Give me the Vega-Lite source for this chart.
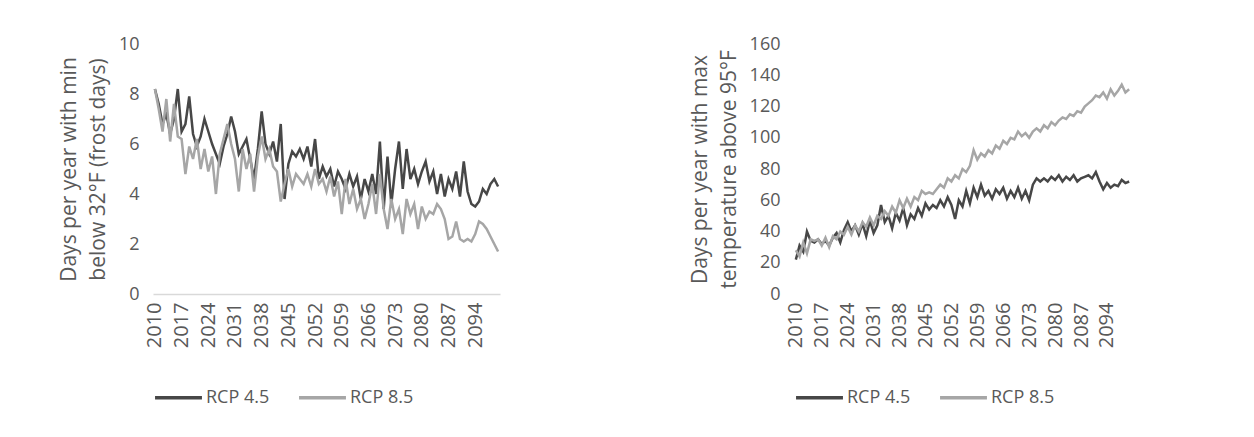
{
 "$schema": "https://vega.github.io/schema/vega-lite/v6.json",
 "background": "white",
 "padding": {"left": 58, "top": 35, "right": 5, "bottom": 5},
 "config": {
  "font": "Open Sans",
  "view": {"stroke": null},
  "axis": {"labelColor": "#595959", "titleColor": "#595959", "labelFont": "Open Sans", "titleFont": "Open Sans", "labelFontSize": 18, "titleFontSize": 21, "titleLineHeight": 29, "titleFontWeight": "normal", "grid": false, "ticks": false},
  "legend": {"labelColor": "#595959", "labelFont": "Open Sans", "labelFontSize": 18, "symbolType": "stroke", "symbolStrokeWidth": 3.5, "symbolSize": 2200, "columnPadding": 22, "labelOffset": 2}
 },
 "datasets": {
  "frost": [
   {"year":2010,"rcp45":8.2,"rcp85":8.2},{"year":2011,"rcp45":7.6,"rcp85":7.4},{"year":2012,"rcp45":6.8,"rcp85":6.5},{"year":2013,"rcp45":7.2,"rcp85":7.8},{"year":2014,"rcp45":6.4,"rcp85":6.1},{"year":2015,"rcp45":7.0,"rcp85":7.6},{"year":2016,"rcp45":8.2,"rcp85":6.3},{"year":2017,"rcp45":6.5,"rcp85":6.2},{"year":2018,"rcp45":6.8,"rcp85":4.8},{"year":2019,"rcp45":7.9,"rcp85":5.9},
   {"year":2020,"rcp45":6.4,"rcp85":5.4},{"year":2021,"rcp45":5.9,"rcp85":6.2},{"year":2022,"rcp45":6.3,"rcp85":5.0},{"year":2023,"rcp45":7.0,"rcp85":5.8},{"year":2024,"rcp45":6.5,"rcp85":4.9},{"year":2025,"rcp45":6.0,"rcp85":5.5},{"year":2026,"rcp45":5.6,"rcp85":4.0},{"year":2027,"rcp45":5.2,"rcp85":5.6},{"year":2028,"rcp45":5.9,"rcp85":6.2},{"year":2029,"rcp45":6.4,"rcp85":6.8},
   {"year":2030,"rcp45":7.1,"rcp85":6.0},{"year":2031,"rcp45":6.5,"rcp85":5.4},{"year":2032,"rcp45":5.6,"rcp85":4.1},{"year":2033,"rcp45":5.9,"rcp85":5.8},{"year":2034,"rcp45":6.2,"rcp85":5.0},{"year":2035,"rcp45":5.4,"rcp85":5.6},{"year":2036,"rcp45":4.6,"rcp85":4.1},{"year":2037,"rcp45":5.8,"rcp85":5.5},{"year":2038,"rcp45":7.3,"rcp85":6.3},{"year":2039,"rcp45":6.0,"rcp85":5.4},
   {"year":2040,"rcp45":5.6,"rcp85":5.8},{"year":2041,"rcp45":6.1,"rcp85":5.1},{"year":2042,"rcp45":5.3,"rcp85":4.9},{"year":2043,"rcp45":6.8,"rcp85":3.7},{"year":2044,"rcp45":3.8,"rcp85":4.4},{"year":2045,"rcp45":5.2,"rcp85":5.0},{"year":2046,"rcp45":5.7,"rcp85":4.3},{"year":2047,"rcp45":5.5,"rcp85":4.8},{"year":2048,"rcp45":5.8,"rcp85":4.6},{"year":2049,"rcp45":5.4,"rcp85":4.4},
   {"year":2050,"rcp45":5.9,"rcp85":4.8},{"year":2051,"rcp45":5.1,"rcp85":4.3},{"year":2052,"rcp45":6.2,"rcp85":5.0},{"year":2053,"rcp45":4.6,"rcp85":4.4},{"year":2054,"rcp45":5.1,"rcp85":4.6},{"year":2055,"rcp45":4.7,"rcp85":4.1},{"year":2056,"rcp45":5.0,"rcp85":4.7},{"year":2057,"rcp45":4.3,"rcp85":3.9},{"year":2058,"rcp45":4.9,"rcp85":4.5},{"year":2059,"rcp45":4.6,"rcp85":3.2},
   {"year":2060,"rcp45":4.2,"rcp85":4.6},{"year":2061,"rcp45":4.8,"rcp85":3.6},{"year":2062,"rcp45":4.3,"rcp85":4.2},{"year":2063,"rcp45":4.7,"rcp85":3.4},{"year":2064,"rcp45":3.8,"rcp85":3.8},{"year":2065,"rcp45":4.6,"rcp85":3.0},{"year":2066,"rcp45":4.1,"rcp85":3.6},{"year":2067,"rcp45":4.8,"rcp85":4.4},{"year":2068,"rcp45":4.0,"rcp85":3.2},{"year":2069,"rcp45":6.1,"rcp85":4.8},
   {"year":2070,"rcp45":3.4,"rcp85":3.4},{"year":2071,"rcp45":5.5,"rcp85":2.6},{"year":2072,"rcp45":3.6,"rcp85":3.8},{"year":2073,"rcp45":5.0,"rcp85":3.0},{"year":2074,"rcp45":6.1,"rcp85":3.4},{"year":2075,"rcp45":4.2,"rcp85":2.4},{"year":2076,"rcp45":5.8,"rcp85":3.8},{"year":2077,"rcp45":4.6,"rcp85":3.2},{"year":2078,"rcp45":5.0,"rcp85":3.6},{"year":2079,"rcp45":4.4,"rcp85":2.6},
   {"year":2080,"rcp45":4.9,"rcp85":3.5},{"year":2081,"rcp45":5.3,"rcp85":3.0},{"year":2082,"rcp45":4.5,"rcp85":3.3},{"year":2083,"rcp45":4.9,"rcp85":3.2},{"year":2084,"rcp45":4.0,"rcp85":3.6},{"year":2085,"rcp45":4.8,"rcp85":3.4},{"year":2086,"rcp45":3.9,"rcp85":3.0},{"year":2087,"rcp45":4.6,"rcp85":2.2},{"year":2088,"rcp45":4.2,"rcp85":2.3},{"year":2089,"rcp45":4.9,"rcp85":2.9},
   {"year":2090,"rcp45":3.9,"rcp85":2.2},{"year":2091,"rcp45":5.3,"rcp85":2.1},{"year":2092,"rcp45":4.1,"rcp85":2.2},{"year":2093,"rcp45":3.6,"rcp85":2.1},{"year":2094,"rcp45":3.5,"rcp85":2.4},{"year":2095,"rcp45":3.7,"rcp85":2.9},{"year":2096,"rcp45":4.2,"rcp85":2.8},{"year":2097,"rcp45":4.0,"rcp85":2.6},{"year":2098,"rcp45":4.4,"rcp85":2.3},{"year":2099,"rcp45":4.6,"rcp85":2.0},
   {"year":2100,"rcp45":4.3,"rcp85":1.7}
  ],
  "heat": [
   {"year":2010,"rcp45":22,"rcp85":28},{"year":2011,"rcp45":31,"rcp85":24},{"year":2012,"rcp45":27,"rcp85":33},{"year":2013,"rcp45":40,"rcp85":26},{"year":2014,"rcp45":34,"rcp85":35},{"year":2015,"rcp45":33,"rcp85":34},{"year":2016,"rcp45":35,"rcp85":35},{"year":2017,"rcp45":32,"rcp85":31},{"year":2018,"rcp45":34,"rcp85":36},{"year":2019,"rcp45":31,"rcp85":30},
   {"year":2020,"rcp45":36,"rcp85":37},{"year":2021,"rcp45":39,"rcp85":35},{"year":2022,"rcp45":33,"rcp85":40},{"year":2023,"rcp45":41,"rcp85":38},{"year":2024,"rcp45":46,"rcp85":43},{"year":2025,"rcp45":40,"rcp85":38},{"year":2026,"rcp45":44,"rcp85":44},{"year":2027,"rcp45":38,"rcp85":40},{"year":2028,"rcp45":45,"rcp85":46},{"year":2029,"rcp45":37,"rcp85":43},
   {"year":2030,"rcp45":47,"rcp85":49},{"year":2031,"rcp45":39,"rcp85":44},{"year":2032,"rcp45":44,"rcp85":50},{"year":2033,"rcp45":57,"rcp85":48},{"year":2034,"rcp45":46,"rcp85":53},{"year":2035,"rcp45":50,"rcp85":50},{"year":2036,"rcp45":42,"rcp85":56},{"year":2037,"rcp45":52,"rcp85":52},{"year":2038,"rcp45":47,"rcp85":60},{"year":2039,"rcp45":55,"rcp85":55},
   {"year":2040,"rcp45":44,"rcp85":61},{"year":2041,"rcp45":51,"rcp85":56},{"year":2042,"rcp45":48,"rcp85":62},{"year":2043,"rcp45":55,"rcp85":60},{"year":2044,"rcp45":50,"rcp85":66},{"year":2045,"rcp45":58,"rcp85":64},{"year":2046,"rcp45":54,"rcp85":65},{"year":2047,"rcp45":57,"rcp85":64},{"year":2048,"rcp45":55,"rcp85":67},{"year":2049,"rcp45":60,"rcp85":70},
   {"year":2050,"rcp45":56,"rcp85":68},{"year":2051,"rcp45":62,"rcp85":74},{"year":2052,"rcp45":57,"rcp85":72},{"year":2053,"rcp45":48,"rcp85":76},{"year":2054,"rcp45":60,"rcp85":74},{"year":2055,"rcp45":56,"rcp85":80},{"year":2056,"rcp45":66,"rcp85":78},{"year":2057,"rcp45":58,"rcp85":82},{"year":2058,"rcp45":68,"rcp85":92},{"year":2059,"rcp45":62,"rcp85":86},
   {"year":2060,"rcp45":70,"rcp85":90},{"year":2061,"rcp45":63,"rcp85":88},{"year":2062,"rcp45":66,"rcp85":92},{"year":2063,"rcp45":61,"rcp85":90},{"year":2064,"rcp45":67,"rcp85":95},{"year":2065,"rcp45":64,"rcp85":93},{"year":2066,"rcp45":68,"rcp85":98},{"year":2067,"rcp45":61,"rcp85":96},{"year":2068,"rcp45":66,"rcp85":100},{"year":2069,"rcp45":62,"rcp85":99},
   {"year":2070,"rcp45":68,"rcp85":104},{"year":2071,"rcp45":61,"rcp85":101},{"year":2072,"rcp45":66,"rcp85":103},{"year":2073,"rcp45":60,"rcp85":100},{"year":2074,"rcp45":70,"rcp85":104},{"year":2075,"rcp45":74,"rcp85":106},{"year":2076,"rcp45":72,"rcp85":104},{"year":2077,"rcp45":74,"rcp85":108},{"year":2078,"rcp45":72,"rcp85":106},{"year":2079,"rcp45":75,"rcp85":110},
   {"year":2080,"rcp45":73,"rcp85":108},{"year":2081,"rcp45":76,"rcp85":111},{"year":2082,"rcp45":72,"rcp85":113},{"year":2083,"rcp45":75,"rcp85":112},{"year":2084,"rcp45":73,"rcp85":115},{"year":2085,"rcp45":76,"rcp85":114},{"year":2086,"rcp45":72,"rcp85":117},{"year":2087,"rcp45":74,"rcp85":116},{"year":2088,"rcp45":75,"rcp85":120},{"year":2089,"rcp45":76,"rcp85":122},
   {"year":2090,"rcp45":74,"rcp85":124},{"year":2091,"rcp45":78,"rcp85":127},{"year":2092,"rcp45":72,"rcp85":126},{"year":2093,"rcp45":67,"rcp85":129},{"year":2094,"rcp45":71,"rcp85":125},{"year":2095,"rcp45":68,"rcp85":131},{"year":2096,"rcp45":70,"rcp85":127},{"year":2097,"rcp45":69,"rcp85":130},{"year":2098,"rcp45":73,"rcp85":134},{"year":2099,"rcp45":71,"rcp85":129},
   {"year":2100,"rcp45":72,"rcp85":131}
  ]
 },
 "spacing": 185,
 "resolve": {"scale": {"color": "independent", "y": "independent", "x": "independent"}, "legend": {"color": "independent"}},
 "hconcat": [
  {
   "width": 347, "height": 250,
   "data": {"name": "frost"},
   "transform": [{"fold": ["rcp45", "rcp85"], "as": ["scenario", "days"]}],
   "mark": {"type": "line", "strokeWidth": 2.5},
   "encoding": {
    "x": {"field": "year", "type": "quantitative", "scale": {"domain": [2009.5, 2100.5], "nice": false, "zero": false},
     "axis": {"values": [2010,2017,2024,2031,2038,2045,2052,2059,2066,2073,2080,2087,2094], "format": "d", "labelAngle": -90, "labelFontSize": 20, "title": null, "domainColor": "#d9d9d9", "domainWidth": 1.5, "labelPadding": 8}},
    "y": {"field": "days", "type": "quantitative", "scale": {"domain": [0, 10], "nice": false},
     "axis": {"values": [0,2,4,6,8,10], "domain": false, "title": ["Days per year with min", "below 32°F (frost days)"], "labelPadding": 14, "titlePadding": 10}},
    "color": {"field": "scenario", "type": "nominal", "scale": {"domain": ["rcp45", "rcp85"], "range": ["#474747", "#a6a6a6"]},
     "legend": {"orient": "bottom", "direction": "horizontal", "title": null, "offset": 24, "labelExpr": "datum.value == 'rcp45' ? 'RCP 4.5' : 'RCP 8.5'"}}
   }
  },
  {
   "width": 337, "height": 250,
   "data": {"name": "heat"},
   "transform": [{"fold": ["rcp45", "rcp85"], "as": ["scenario", "days"]}],
   "mark": {"type": "line", "strokeWidth": 2.5},
   "encoding": {
    "x": {"field": "year", "type": "quantitative", "scale": {"domain": [2009.5, 2100.5], "nice": false, "zero": false},
     "axis": {"values": [2010,2017,2024,2031,2038,2045,2052,2059,2066,2073,2080,2087,2094], "format": "d", "labelAngle": -90, "labelFontSize": 20, "title": null, "domain": false, "labelPadding": 8}},
    "y": {"field": "days", "type": "quantitative", "scale": {"domain": [0, 160], "nice": false},
     "axis": {"values": [0,20,40,60,80,100,120,140,160], "domain": false, "title": ["Days per year with max", "temperature above 95°F"], "labelPadding": 14, "titlePadding": 10}},
    "color": {"field": "scenario", "type": "nominal", "scale": {"domain": ["rcp45", "rcp85"], "range": ["#474747", "#a6a6a6"]},
     "legend": {"orient": "bottom", "direction": "horizontal", "title": null, "offset": 24, "labelExpr": "datum.value == 'rcp45' ? 'RCP 4.5' : 'RCP 8.5'"}}
   }
  }
 ]
}
